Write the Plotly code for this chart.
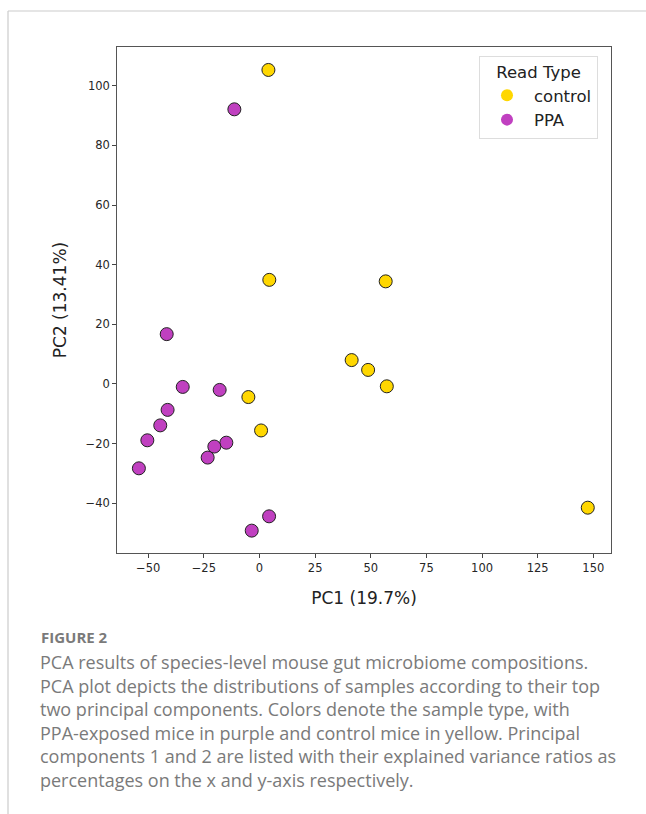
import plotly.graph_objects as go

# ---- data ----
control_pc1 = [4.0, 4.4, 56.7, 41.4, 48.8, 57.2, -5.0, 0.7, 147.5]
control_pc2 = [105.3, 34.9, 34.4, 8.0, 4.7, -0.8, -4.4, -15.6, -41.5]
ppa_pc1 = [-11.3, -41.7, -34.5, -17.9, -41.3, -44.6, -50.4, -14.9, -20.3, -23.3, -54.2, 4.3, -3.5]
ppa_pc2 = [92.1, 16.7, -1.0, -2.0, -8.7, -13.9, -18.9, -19.7, -21.0, -24.7, -28.3, -44.4, -49.2]
groups = ["control", "PPA"]
x_ticks = [-50, -25, 0, 25, 50, 75, 100, 125, 150]
y_ticks = [-40, -20, 0, 20, 40, 60, 80, 100]
x_label = "PC1 (19.7%)"
y_label = "PC2 (13.41%)"
legend_title = "Read Type"
caption_head = "FIGURE 2"
caption_lines = [
    "PCA results of species-level mouse gut microbiome compositions.",
    "PCA plot depicts the distributions of samples according to their top",
    "two principal components. Colors denote the sample type, with",
    "PPA-exposed mice in purple and control mice in yellow. Principal",
    "components 1 and 2 are listed with their explained variance ratios as",
    "percentages on the x and y-axis respectively.",
]

W, H = 646, 814
YELLOW = "#FFD700"
PURPLE = "#C040C0"
colors = {"control": YELLOW, "PPA": PURPLE}

fig = go.Figure()
series = {"control": (control_pc1, control_pc2), "PPA": (ppa_pc1, ppa_pc2)}
for g in groups:
    xs, ys = series[g]
    fig.add_trace(go.Scatter(
        x=xs, y=ys, mode="markers", showlegend=False, name=g,
        marker=dict(size=13, color=colors[g], line=dict(color="#222222", width=1)),
    ))
# legend entries (small dots, no outline)
for g in groups:
    fig.add_trace(go.Scatter(
        x=[None], y=[None], mode="markers", name=g,
        marker=dict(size=8, color=colors[g], line=dict(width=0)),
    ))

px = lambda v: v / W
py = lambda v: 1 - v / H

axis_common = dict(
    showgrid=False, zeroline=False, showline=True, mirror=True,
    linecolor="#555555", linewidth=1.2, ticks="outside", ticklen=4,
    tickcolor="#444444", tickfont=dict(family="DejaVu Sans", size=11.5, color="#262626"),
)
fig.update_layout(
    width=W, height=H,
    margin=dict(l=0, r=0, t=0, b=0),
    paper_bgcolor="white", plot_bgcolor="white",
    xaxis=dict(domain=[px(117.3), px(610.7)], range=[-63.9, 157.8],
               tickvals=x_ticks, anchor="y",
               title=dict(text=x_label, font=dict(family="DejaVu Sans", size=17, color="#222222"), standoff=17),
               **axis_common),
    yaxis=dict(domain=[py(553.3), py(46.7)], range=[-56.8, 113.1],
               tickvals=y_ticks, anchor="x",
               title=dict(text=y_label, font=dict(family="DejaVu Sans", size=17, color="#222222"), standoff=14),
               **axis_common),
    legend=dict(
        x=px(479), y=py(55.5), xanchor="left", yanchor="top",
        bgcolor="white", bordercolor="#dddddd", borderwidth=1,
        font=dict(family="DejaVu Sans", size=16.5, color="#222222"),
        title=dict(text=legend_title, side="top center",
                   font=dict(family="DejaVu Sans", size=16.5, color="#222222")),
        itemsizing="constant", itemwidth=44, tracegroupgap=0,
    ),
    showlegend=True,
)

# page frame lines
fig.add_shape(type="line", xref="paper", yref="paper", x0=px(8), x1=1.0, y0=py(11), y1=py(11),
              line=dict(color="#cccccc", width=1.2))
fig.add_shape(type="line", xref="paper", yref="paper", x0=px(8), x1=px(8), y0=py(11), y1=0,
              line=dict(color="#cccccc", width=1.2))

# caption
fig.add_annotation(text="<b>" + caption_head + "</b>", xref="paper", yref="paper",
                   x=px(39), y=py(637), xanchor="left", yanchor="middle", showarrow=False,
                   font=dict(family="Open Sans", size=15, color="#7a7a7a"))
for i, line in enumerate(caption_lines):
    fig.add_annotation(text=line, xref="paper", yref="paper",
                       x=px(38), y=py(662 + 23.5 * i), xanchor="left", yanchor="middle",
                       showarrow=False,
                       font=dict(family="Open Sans", size=18, color="#7a7a7a"))

fig.write_html("out.html")
